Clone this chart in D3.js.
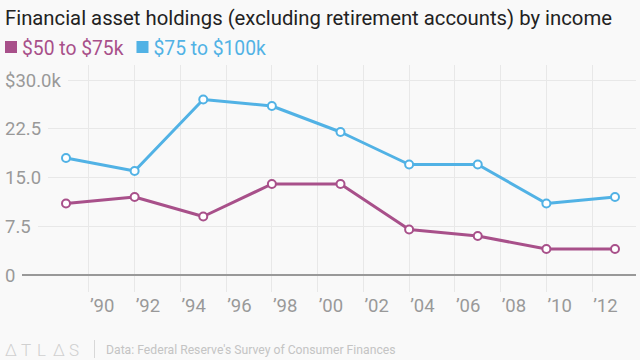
<!DOCTYPE html>
<html><head><meta charset="utf-8">
<script src="https://cdn.jsdelivr.net/npm/d3@7"></script>
<style>
html,body{margin:0;padding:0;background:#f9f9f9;}
svg{display:block;font-family:Roboto, "Noto Sans", sans-serif;}
</style></head>
<body><svg id="c" width="640" height="360"></svg>
<script>
const title = "Financial asset holdings (excluding retirement accounts) by income";
const years = [1989, 1992, 1995, 1998, 2001, 2004, 2007, 2010, 2013];
const seriesNames = ["$50 to $75k", "$75 to $100k"];
const seriesColors = ["#a8508a", "#51b2e5"];
const mid = [11, 12, 9, 14, 14, 7, 6, 4, 4];
const upper = [18, 16, 27, 26, 22, 17, 17, 11, 12];
const yTicks = [0, 7.5, 15, 22.5, 30];
const yTickLabels = ["0", "7.5", "15.0", "22.5", "$30.0k"];
const xTicks = [1990, 1992, 1994, 1996, 1998, 2000, 2002, 2004, 2006, 2008, 2010, 2012];
const source = "Data: Federal Reserve's Survey of Consumer Finances";

const svg = d3.select("#c");
const x = d3.scaleLinear().domain([1989, 2013]).range([66, 615]);
const y = d3.scaleLinear().domain([0, 30]).range([275, 80]);

svg.append("text").attr("x", 5).attr("y", 25).attr("font-size", 20.3).attr("fill", "#222").text(title);

// legend
let lx = 5;
seriesNames.forEach((n, i) => {
  svg.append("rect").attr("x", lx).attr("y", 41).attr("width", 12).attr("height", 12).attr("fill", seriesColors[i]);
  const t = svg.append("text").attr("x", lx + 17).attr("y", 55).attr("font-size", 19.3).attr("fill", seriesColors[i]).text(n);
  lx += 17 + t.node().getComputedTextLength() + 13;
});

// vertical gridlines
svg.append("g").selectAll("line").data(xTicks).join("line")
  .attr("x1", d => x(d)).attr("x2", d => x(d)).attr("y1", 65).attr("y2", 292)
  .attr("stroke", "#e8e8e8").attr("stroke-width", 1).attr("shape-rendering", "crispEdges");

// y axis labels and horizontal gridlines
yTicks.forEach((v, i) => {
  const t = svg.append("text").attr("x", 5).attr("y", y(v) + 6.5).attr("font-size", 18.5).attr("fill", "#999").text(yTickLabels[i]);
  const w = t.node().getComputedTextLength();
  svg.append("line").attr("x1", 5 + w + 7).attr("x2", 636).attr("y1", y(v)).attr("y2", y(v))
    .attr("stroke", v === 0 ? "#999" : "#e8e8e8").attr("stroke-width", v === 0 ? 1.2 : 1).attr("shape-rendering", "crispEdges");
});

// x labels
svg.append("g").selectAll("text").data(xTicks).join("text")
  .attr("x", d => x(d) + 1).attr("y", 312).attr("font-size", 18.5).attr("fill", "#999")
  .text(d => "\u2019" + String(d).slice(2));

// lines
const line = d3.line().x((d, i) => x(years[i])).y(d => y(d));
[mid, upper].forEach((s, k) => {
  svg.append("path").datum(s).attr("d", line).attr("fill", "none").attr("stroke", seriesColors[k]).attr("stroke-width", 3).attr("stroke-linejoin", "round");
  svg.append("g").selectAll("circle").data(s).join("circle")
    .attr("cx", (d, i) => x(years[i])).attr("cy", d => y(d)).attr("r", 4)
    .attr("fill", "#fff").attr("stroke", seriesColors[k]).attr("stroke-width", 2);
});

// footer
const atlas = ["\u2206", "T", "L", "\u2206", "S"];
svg.append("g").selectAll("text").data(atlas).join("text")
  .attr("x", (d, i) => 5 + i * 16).attr("y", 356).attr("font-size", 17).attr("font-weight", 300).attr("fill", "#d0d0d0").text(d => d);
svg.append("line").attr("x1", 94.5).attr("x2", 94.5).attr("y1", 340).attr("y2", 358).attr("stroke", "#d8d8d8");
svg.append("text").attr("x", 106).attr("y", 354).attr("font-size", 12.2).attr("fill", "#c4c4c4").text(source);
</script></body></html>
